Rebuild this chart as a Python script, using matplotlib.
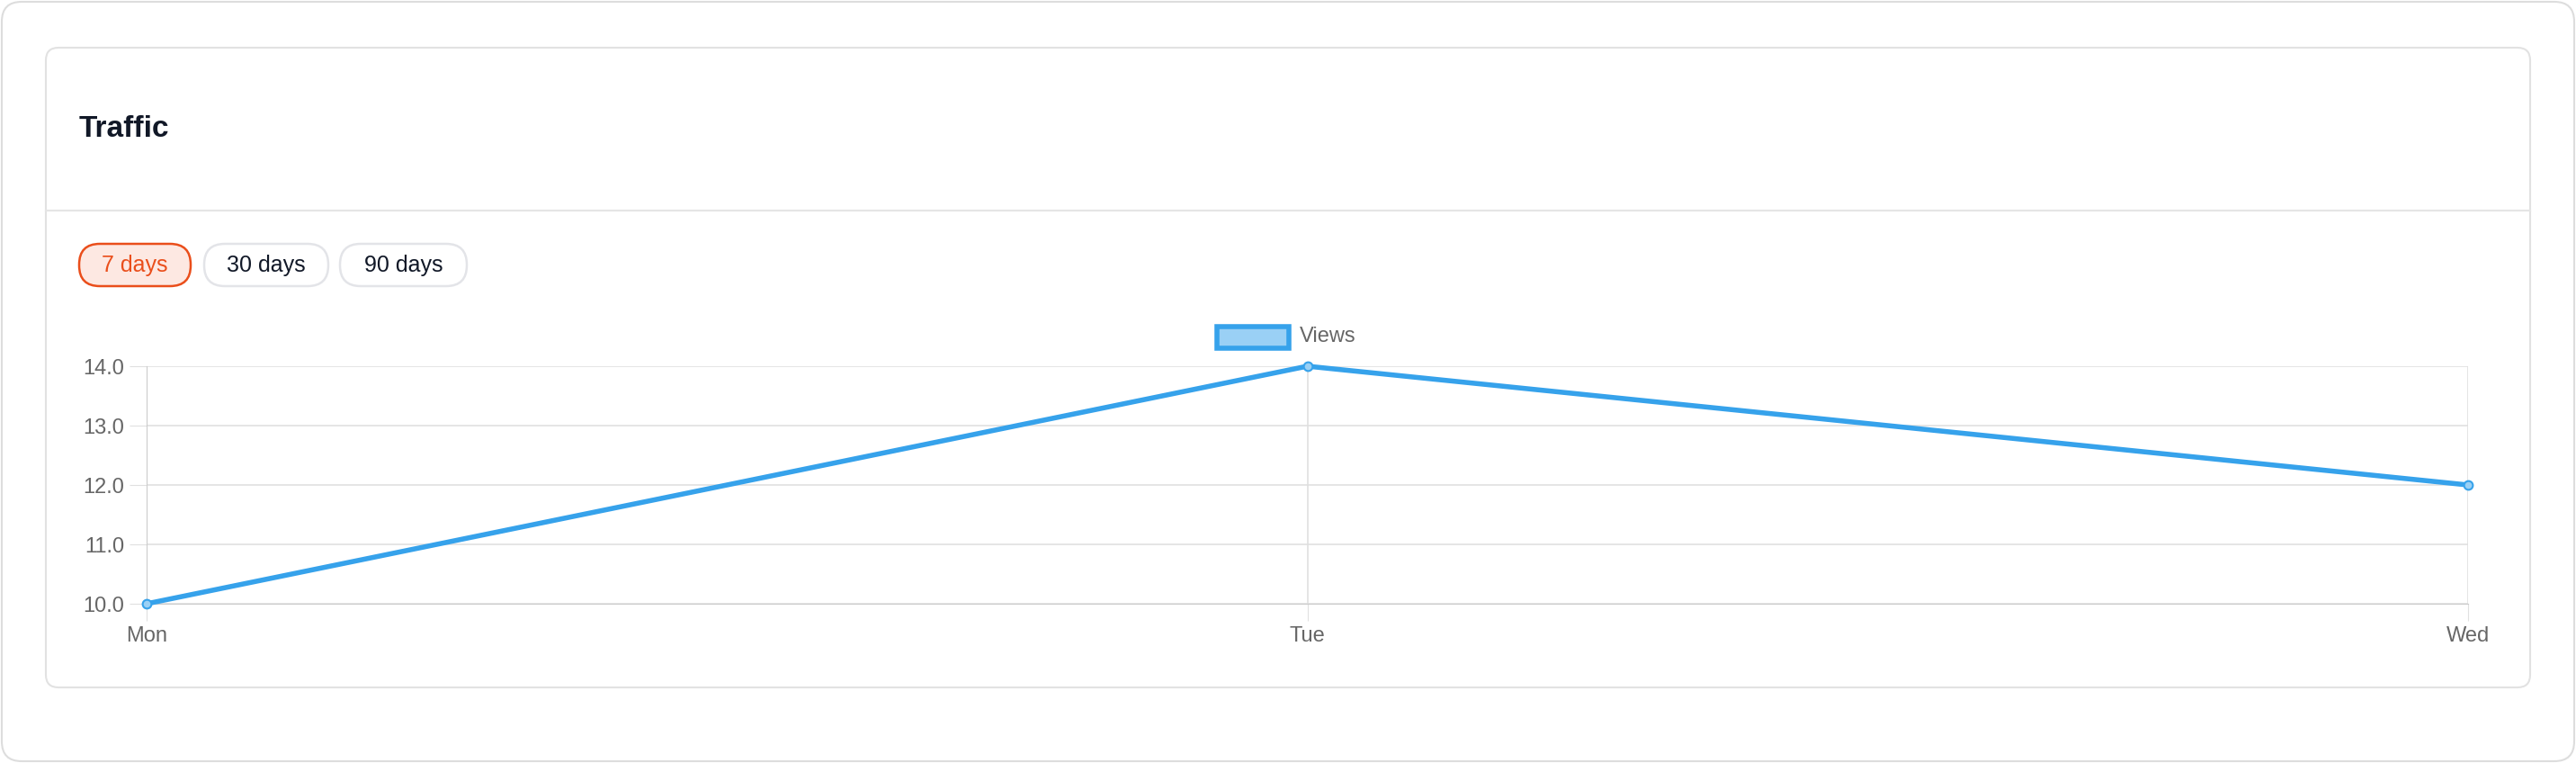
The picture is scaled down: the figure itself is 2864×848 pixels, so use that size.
import matplotlib.pyplot as plt
from matplotlib.patches import FancyBboxPatch, Rectangle

W, H = 2864, 848
days = ['Mon', 'Tue', 'Wed']
views = [10, 14, 12]
y_ticks = [10.0, 11.0, 12.0, 13.0, 14.0]
buttons = ['7 days', '30 days', '90 days']

BLUE = '#36a2eb'
GRID = '#e0e0e0'
TXT = '#666666'

fig = plt.figure(figsize=(W / 100, H / 100), dpi=100)
plt.rcParams['font.family'] = ['Liberation Sans', 'DejaVu Sans']

# background / chrome in pixel coords
bg = fig.add_axes([0, 0, 1, 1])
bg.set_xlim(0, W)
bg.set_ylim(H, 0)
bg.axis('off')
bg.add_patch(FancyBboxPatch((2, 2), W - 4, H - 4, boxstyle='round,pad=0,rounding_size=22',
                            fc='white', ec='#dddddd', lw=1.5))
bg.add_patch(FancyBboxPatch((51, 53), 2762, 711, boxstyle='round,pad=0,rounding_size=14',
                            fc='white', ec='#e2e2e2', lw=1.5))
bg.plot([51, 2813], [234, 234], color='#e5e5e5', lw=1.5)
bg.text(88, 143, 'Traffic', fontsize=24, fontweight='bold', color='#111827', va='center')

btn_x = [(88, 212), (227, 365), (378, 519)]
for (x0, x1), lab in zip(btn_x, buttons):
    active = lab == '7 days'
    bg.add_patch(FancyBboxPatch((x0, 271), x1 - x0, 47, boxstyle='round,pad=0,rounding_size=23',
                                fc='#fde8e2' if active else 'white',
                                ec='#ea4e1b' if active else '#e3e4e8', lw=1.8))
    bg.text((x0 + x1) / 2, 295, lab, fontsize=18, ha='center', va='center',
            color='#ea4e1b' if active else '#111827')

# legend
bg.add_patch(Rectangle((1353, 363), 80, 24, fc='#9ad0f5', ec=BLUE, lw=4))
bg.text(1445, 374, 'Views', fontsize=17, color=TXT, va='center')

# chart
x0, x1, y0, y1 = 163, 2744, 407, 671
ax = fig.add_axes([x0 / W, 1 - y1 / H, (x1 - x0) / W, (y1 - y0) / H])
ax.set_facecolor('none')
ax.plot(range(len(days)), views, color=BLUE, lw=4, marker='o', ms=7,
        mfc='#9ad0f5', mec=BLUE, mew=1.5, clip_on=False, zorder=3)
ax.set_xlim(0, len(days) - 1)
ax.set_ylim(10, 14)
ax.set_yticks(y_ticks)
ax.set_yticklabels([f'{v:.1f}' for v in y_ticks])
ax.set_xticks(range(len(days)))
ax.set_xticklabels(days)
ax.grid(True, color=GRID, lw=1.2)
for s in ax.spines.values():
    s.set_visible(False)
ax.spines['left'].set_visible(True)
ax.spines['bottom'].set_visible(True)
ax.spines['left'].set_color('#cccccc')
ax.spines['bottom'].set_color('#cccccc')
ax.tick_params(length=14, color=GRID, labelcolor=TXT, labelsize=17, pad=4)

fig.savefig('out.png', dpi=100)
